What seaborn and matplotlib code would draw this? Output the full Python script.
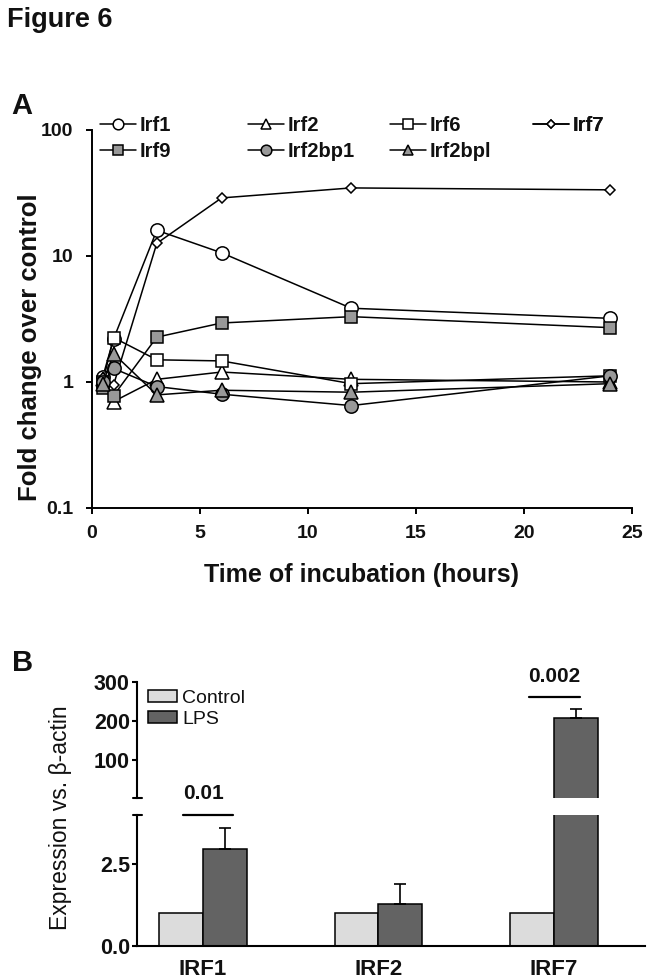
import matplotlib
matplotlib.use("Agg")
import matplotlib.pyplot as plt
from matplotlib.container import BarContainer
import seaborn as sns
import pandas as pd

# ---------------- data: panel A ----------------
hours = [0.5, 1, 3, 6, 12, 24]
irf1 = [1.10, 2.20, 16.0, 10.6, 3.85, 3.20]
irf2 = [1.05, 0.70, 1.05, 1.20, 1.05, 1.00]
irf6 = [1.00, 2.25, 1.50, 1.47, 0.97, 1.12]
irf7 = [1.08, 0.95, 12.6, 28.9, 34.7, 33.5]
irf9 = [0.90, 0.78, 2.27, 2.94, 3.30, 2.70]
irf2bp1 = [1.00, 1.28, 0.92, 0.80, 0.65, 1.12]
irf2bpl = [0.97, 1.68, 0.79, 0.86, 0.83, 0.97]
series_names = ["Irf1", "Irf2", "Irf6", "Irf7", "Irf9", "Irf2bp1", "Irf2bpl"]
series_values = [irf1, irf2, irf6, irf7, irf9, irf2bp1, irf2bpl]
x_ticks_A = [0, 5, 10, 15, 20, 25]
y_ticks_A = [0.1, 1, 10, 100]
y_ticklabels_A = ["0.1", "1", "10", "100"]

# ---------------- data: panel B ----------------
genes = ["IRF1", "IRF2", "IRF7"]
conditions = ["Control", "LPS"]
control_expr = [1.0, 1.0, 1.0]
lps_expr = [2.95, 1.27, 209.0]
lps_err = [0.66, 0.63, 23.0]
p_labels = ["0.01", "", "0.002"]
upper_ticks = [100, 200, 300]
lower_ticks = [0.0, 2.5]

# ---------------- style ----------------
sns.set_theme(style="ticks")
plt.rcParams["font.family"] = ["Liberation Sans", "DejaVu Sans"]
GRAY = "#999999"
LIGHT = "#dcdcdc"
DARK = "#636363"

W, H = 653, 980
fig = plt.figure(figsize=(W / 100, H / 100), dpi=100)


def fx(px):
    return px / W


def fy(py):
    return 1 - py / H


# ================= Panel A =================
axA = fig.add_axes([fx(92), fy(508), (632 - 92) / W, (508 - 130) / H])

marker_styles = {
    "Irf1": dict(marker="o", mfc="white", ms=9.6),
    "Irf2": dict(marker="^", mfc="white", ms=9.6),
    "Irf6": dict(marker="s", mfc="white", ms=8.6),
    "Irf7": dict(marker="D", mfc="white", ms=5.4),
    "Irf9": dict(marker="s", mfc=GRAY, ms=8.6),
    "Irf2bp1": dict(marker="o", mfc=GRAY, ms=9.6),
    "Irf2bpl": dict(marker="^", mfc=GRAY, ms=9.6),
}

for name, vals in zip(series_names, series_values):
    sns.lineplot(x=hours, y=vals, ax=axA, color="black", lw=1.1,
                 mec="black", mew=1.1, legend=False, label=name,
                 clip_on=False, **marker_styles[name])

axA.set_yscale("log")
axA.set_ylim(0.1, 100)
axA.set_xlim(0, 25)
axA.set_yticks(y_ticks_A)
axA.set_yticklabels(y_ticklabels_A)
axA.yaxis.set_minor_locator(matplotlib.ticker.NullLocator())
axA.set_xticks(x_ticks_A)
axA.set_xticklabels([str(t) for t in x_ticks_A])
axA.tick_params(axis="both", direction="out", length=4.3, width=1.4,
                labelsize=14, color="black", labelcolor="#111111")
axA.tick_params(axis="x", pad=8)
axA.tick_params(axis="y", pad=9)
for lab in axA.get_xticklabels() + axA.get_yticklabels():
    lab.set_fontweight("bold")
sns.despine(ax=axA)
for sp in ("left", "bottom"):
    axA.spines[sp].set_linewidth(1.4)
    axA.spines[sp].set_color("black")
axA.set_xlabel("")
axA.set_ylabel("")

fig.text(fx(30), fy(347), "Fold change over control", rotation=90,
         ha="center", va="center", fontsize=18.5, fontweight="bold",
         color="#111111")
fig.text(fx(362), fy(582), "Time of incubation (hours)", ha="center",
         va="baseline", fontsize=18, fontweight="bold", color="#111111")

# legend for panel A: four columns placed like the original
handles = {ln.get_label(): ln for ln in axA.get_lines()}
legend_cols = [(["Irf1", "Irf9"], 100), (["Irf2", "Irf2bp1"], 248),
               (["Irf6", "Irf2bpl"], 390), (["Irf7"], 533)]
for names, xpx in legend_cols:
    leg = axA.legend([handles[n] for n in names], names, loc="upper left",
                     bbox_to_anchor=(fx(xpx), fy(116)),
                     bbox_transform=fig.transFigure, frameon=False,
                     borderpad=0, borderaxespad=0, handlelength=1.8,
                     handletextpad=0.15, labelspacing=0.35, markerscale=0.8,
                     prop=dict(size=14.5, weight="bold"))
    for t in leg.get_texts():
        t.set_color("#111111")
    axA.add_artist(leg)

# ================= Panel B =================
axT = fig.add_axes([fx(137), fy(798), (645 - 137) / W, (798 - 682) / H])
axL = fig.add_axes([fx(137), fy(946), (645 - 137) / W, (946 - 815) / H])

dfB = pd.DataFrame({
    "Gene": genes * 2,
    "Condition": [conditions[0]] * len(genes) + [conditions[1]] * len(genes),
    "Value": control_expr + lps_expr,
})

UPPER_MIN = 4
for ax in (axT, axL):
    sns.barplot(data=dfB, x="Gene", y="Value", hue="Condition", order=genes,
                hue_order=conditions, palette=[LIGHT, DARK], width=0.5,
                edgecolor="black", linewidth=1.1, errorbar=None, ax=ax,
                legend=(ax is axT))
    bar_conts = [c for c in ax.containers if isinstance(c, BarContainer)]
    lps_bars = bar_conts[1]
    for patch, err in zip(lps_bars, lps_err):
        if ax is axT and patch.get_height() + err <= UPPER_MIN:
            continue
        xc = patch.get_x() + patch.get_width() / 2
        ax.errorbar(xc, patch.get_height(), yerr=[[0], [err]], fmt="none",
                    ecolor="black", elinewidth=1.2, capsize=4.3, capthick=1.2,
                    zorder=1)
    ax.set_xlim(-0.376, 2.52)
    ax.set_xlabel("")
    ax.set_ylabel("")

# bars lower than the upper segment's floor are not shown there
for cont in axT.containers:
    if isinstance(cont, BarContainer):
        for patch in cont:
            if patch.get_height() <= UPPER_MIN:
                patch.set_visible(False)

axT.set_ylim(UPPER_MIN, 300)
axL.set_ylim(0, 4)
axT.set_yticks(upper_ticks)
axT.set_yticklabels([str(t) for t in upper_ticks])
axL.set_yticks(lower_ticks)
axL.set_yticklabels([f"{t:.1f}" for t in lower_ticks])

for sp in ("top", "right", "bottom"):
    axT.spines[sp].set_visible(False)
axT.tick_params(axis="x", bottom=False, labelbottom=False)
for sp in ("top", "right"):
    axL.spines[sp].set_visible(False)
for ax in (axT, axL):
    for sp in ("left", "bottom"):
        ax.spines[sp].set_linewidth(1.5)
        ax.spines[sp].set_color("black")
    ax.tick_params(axis="y", direction="out", length=3.6, width=1.5,
                   labelsize=15.5, pad=1.5, color="black", labelcolor="#111111")
    for lab in ax.get_yticklabels():
        lab.set_fontweight("bold")
axL.tick_params(axis="x", length=0, labelsize=16, pad=9, labelcolor="#111111")
for lab in axL.get_xticklabels():
    lab.set_fontweight("bold")

# axis-break marks
d = 4.5 / (645 - 137)
axT.plot([-d, d], [0, 0], transform=axT.transAxes, color="black", lw=1.5,
         clip_on=False)
axL.plot([-d, d], [1, 1], transform=axL.transAxes, color="black", lw=1.5,
         clip_on=False)

# legend panel B
hB, lB = axT.get_legend_handles_labels()
legB = axT.legend(hB, lB, loc="upper left", bbox_to_anchor=(fx(148), fy(690)),
                  bbox_transform=fig.transFigure, frameon=False, borderpad=0,
                  borderaxespad=0, handlelength=1.5, handleheight=0.55,
                  handletextpad=0.25, labelspacing=0.2,
                  prop=dict(size=14))
for t in legB.get_texts():
    t.set_color("#111111")

# significance annotations
sig_spans = {"IRF1": (-0.115, 0.17), "IRF7": (-0.142, 0.148)}
gi = genes.index("IRF1")
x0, x1 = sig_spans["IRF1"]
axL.plot([gi + x0, gi + x1], [4, 4], color="black", lw=1.6, clip_on=False)
axL.text(gi + 0.005, 4.67, p_labels[gi], ha="center", va="center",
         fontsize=15, fontweight="bold", color="#111111", clip_on=False)
gi = genes.index("IRF7")
x0, x1 = sig_spans["IRF7"]
axT.plot([gi + x0, gi + x1], [261, 261], color="black", lw=1.6, clip_on=False)
axT.text(gi, 315, p_labels[gi], ha="center", va="center", fontsize=15,
         fontweight="bold", color="#111111", clip_on=False)

fig.text(fx(60), fy(818), "Expression vs. β-actin", rotation=90, ha="center",
         va="center", fontsize=16.5, color="#111111")

# panel letters and title
fig.text(fx(7), fy(7), "Figure 6", ha="left", va="top", fontsize=19.5,
         fontweight="bold", color="#111111")
fig.text(fx(11), fy(92), "A", ha="left", va="top", fontsize=21,
         fontweight="bold", color="#111111")
fig.text(fx(12), fy(649), "B", ha="left", va="top", fontsize=21,
         fontweight="bold", color="#111111")

fig.savefig("out.png", dpi=100)
